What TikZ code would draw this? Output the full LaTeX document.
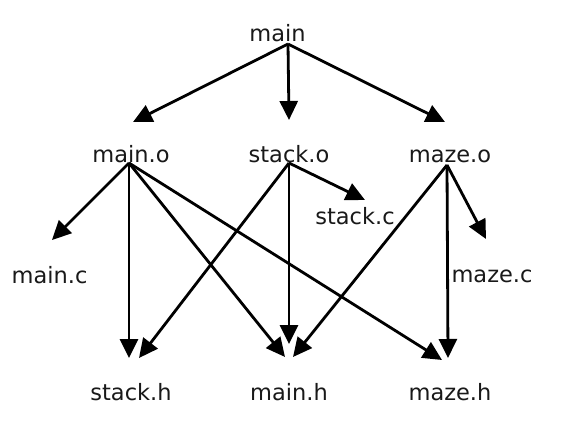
\documentclass[tikz,border=0pt]{standalone}
\usepackage{fontspec}
\setmainfont{DejaVu Sans}
\usetikzlibrary{arrows.meta}
\begin{document}
\begin{tikzpicture}[x=1pt,y=-1pt,
  lbl/.style={anchor=base, inner sep=0pt, text=black!90, font=\fontsize{22.5}{26}\selectfont},
  edge/.style={line width=2.8pt, -{Triangle[length=19pt,width=18pt]}}]
\useasboundingbox[fill=white] (0,0) rectangle (564,438);
% labels
\node[lbl] (main)   at (277.5,42) {main};
\node[lbl] (maino)  at (131,163) {main.o};
\node[lbl] (stacko) at (289,163) {stack.o};
\node[lbl] (mazeo)  at (450,163) {maze.o};
\node[lbl] (mainc)  at (49.5,283) {main.c};
\node[lbl] (stackc) at (355,225) {stack.c};
\node[lbl] (mazec)  at (492,282) {maze.c};
\node[lbl] (stackh) at (131,400) {stack.h};
\node[lbl] (mainh)  at (289,400) {main.h};
\node[lbl] (mazeh)  at (450,400) {maze.h};
% edge origins
\coordinate (main-s)   at (288,44);
\coordinate (maino-s)  at (129,163);
\coordinate (stacko-s) at (289,163);
\coordinate (mazeo-s)  at (447,165);
% arrow tips
\coordinate (t-main-maino)   at (133,122);
\coordinate (t-main-stacko)  at (289,120);
\coordinate (t-main-mazeo)   at (445,122);
\coordinate (t-maino-mainc)  at (52,240);
\coordinate (t-maino-stackh) at (129,358);
\coordinate (t-maino-mainh)  at (285,357);
\coordinate (t-maino-mazeh)  at (442,360);
\coordinate (t-stacko-stackc) at (365,200);
\coordinate (t-stacko-stackh) at (139,358);
\coordinate (t-stacko-mainh)  at (289,344);
\coordinate (t-mazeo-mazec)  at (486,239);
\coordinate (t-mazeo-mainh)  at (293,357);
\coordinate (t-mazeo-mazeh)  at (448,358);
% edges
\draw[edge] (main-s) -- (t-main-maino);
\draw[edge] (main-s) -- (t-main-stacko);
\draw[edge] (main-s) -- (t-main-mazeo);
\draw[edge] (maino-s) -- (t-maino-mainc);
\draw[edge] (maino-s) -- (t-maino-stackh);
\draw[edge] (maino-s) -- (t-maino-mainh);
\draw[edge] (maino-s) -- (t-maino-mazeh);
\draw[edge] (stacko-s) -- (t-stacko-stackc);
\draw[edge] (stacko-s) -- (t-stacko-stackh);
\draw[edge] (stacko-s) -- (t-stacko-mainh);
\draw[edge] (mazeo-s) -- (t-mazeo-mazec);
\draw[edge] (mazeo-s) -- (t-mazeo-mainh);
\draw[edge] (mazeo-s) -- (t-mazeo-mazeh);
\end{tikzpicture}
\end{document}
